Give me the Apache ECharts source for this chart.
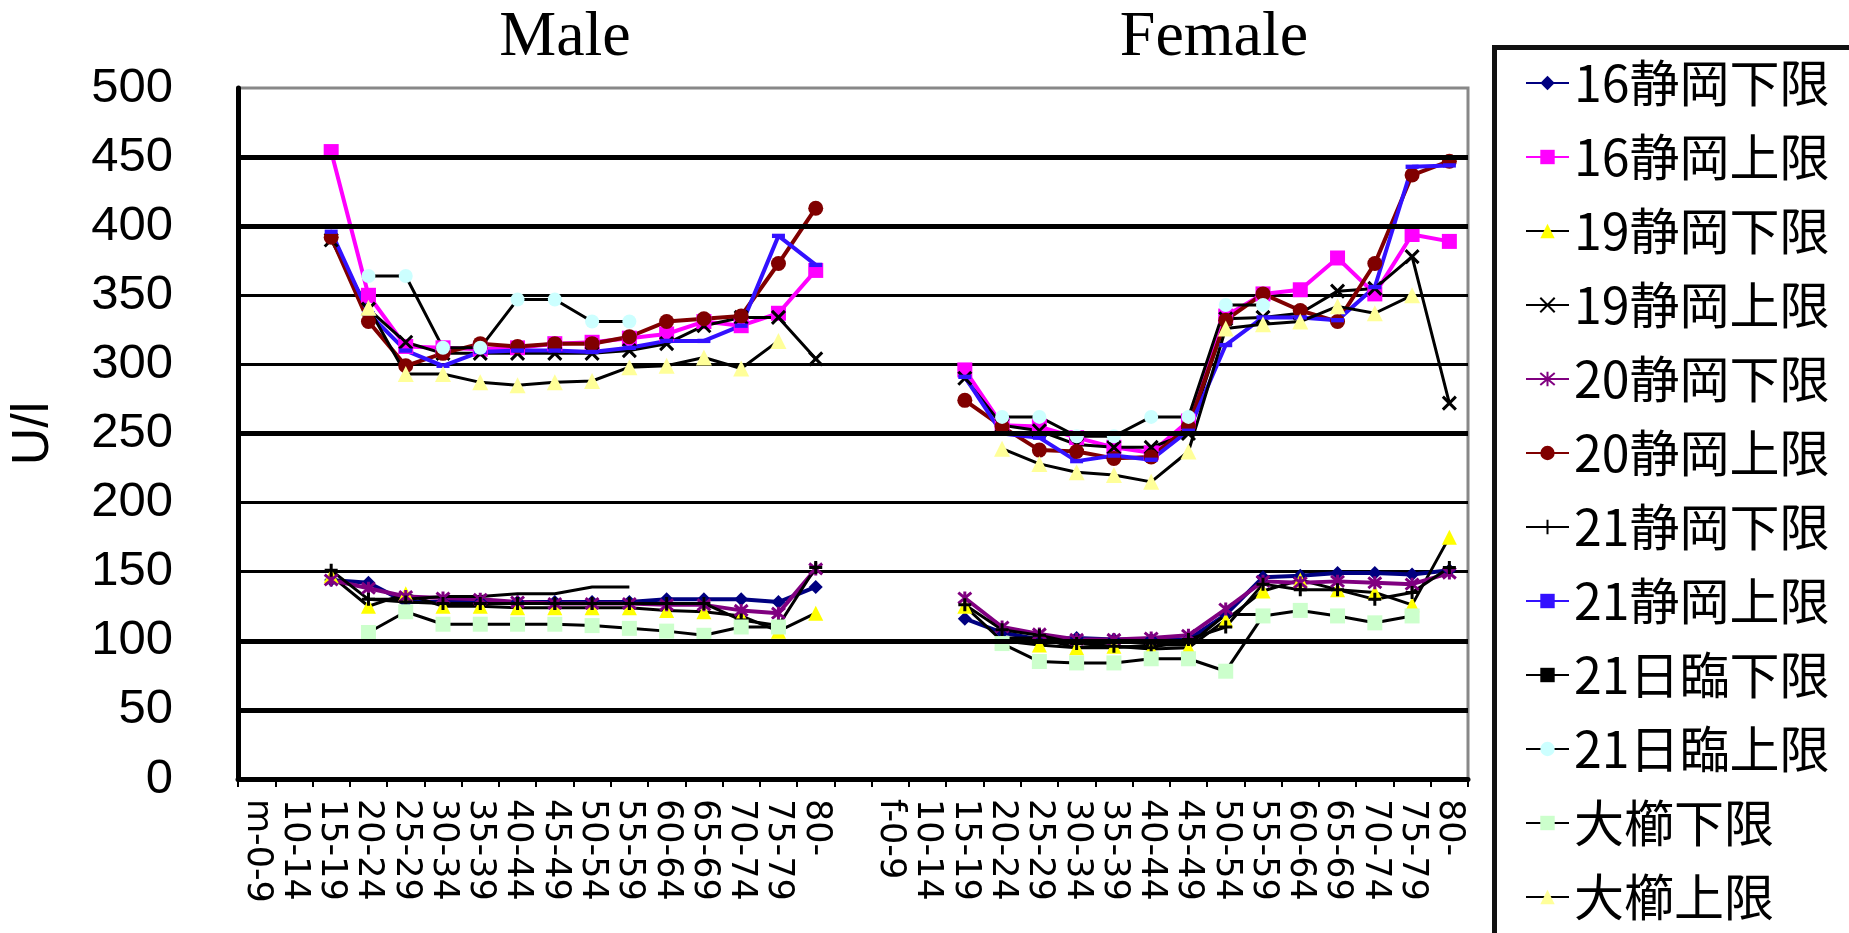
<!DOCTYPE html>
<html>
<head>
<meta charset="utf-8">
<script src="https://cdn.jsdelivr.net/npm/echarts@6/dist/echarts.min.js"></script>
<style>html,body{margin:0;padding:0;background:#fff}#c{width:1849px;height:933px}</style>
</head>
<body>
<div id="c"></div>
<script>
// ---- categories ----
const ageLabels = ['0-9','10-14','15-19','20-24','25-29','30-34','35-39','40-44','45-49','50-54','55-59','60-64','65-69','70-74','75-79','80-'];
const maleCats = ageLabels.map((a, i) => i === 0 ? 'm-' + a : a);
const femaleCats = ageLabels.map((a, i) => i === 0 ? 'f-' + a : a);
const categories = maleCats.concat([''], femaleCats);
const panelTitles = ['Male', 'Female'];
const yTicks = [0, 50, 100, 150, 200, 250, 300, 350, 400, 450, 500];
const thickGridValues = [50, 100, 250, 400, 450];

// ---- series values (male 16 ages, female 16 ages) ----
const s16LowM  = [null,null,144,142,128,128,128,128,128,128,128,130,130,130,128,139];
const s16LowF  = [null,null,116,106,101,102,101,101,101,119,146,147,149,149,148,151];
const s16HighM = [null,null,454,350,313,312,311,312,315,316,319,322,331,328,337,368];
const s16HighF = [null,null,296,256,255,247,240,236,259,335,351,354,377,351,394,389];
const s19LowM  = [null,null,147,125,134,125,125,124,124,124,124,122,121,118,107,120];
const s19LowF  = [null,null,125,100,97,95,96,94,95,115,136,144,137,135,126,175];
const s19HighM = [null,null,390,340,316,308,308,308,308,308,310,315,328,334,334,304];
const s19HighF = [null,null,290,256,252,242,240,240,250,333,334,337,353,355,378,272];
const s20LowM  = [null,null,144,138,132,131,130,128,127,127,127,126,126,122,120,152];
const s20LowF  = [null,null,131,110,105,101,101,102,104,123,143,142,143,142,141,149];
const s20HighM = [null,null,392,331,299,308,315,313,315,315,320,331,333,335,373,413];
const s20HighF = [null,null,274,255,238,237,232,233,255,332,351,339,331,373,437,447];
const s21LowM  = [null,null,151,130,128,127,127,127,127,127,127,127,127,115,111,153];
const s21LowF  = [null,null,126,108,104,98,96,95,101,110,141,137,137,130,135,153];
const s21HighM = [null,null,396,337,310,299,309,310,310,309,312,317,317,328,393,372];
const s21HighF = [null,null,291,250,247,230,234,231,252,314,334,334,332,356,443,444];
const jLowM    = [null,null,null,130,130,132,132,134,134,139,139,null,null,null,null,null];
const jLowF    = [null,null,null,102,102,95,95,97,97,119,119,null,null,null,null,null];
const jHighM   = [null,null,null,364,364,312,312,347,347,331,331,null,null,null,null,null];
const jHighF   = [null,null,null,262,262,248,248,262,262,343,343,null,null,null,null,null];
const okLowM   = [null,null,null,106,121,112,112,112,112,111,109,107,104,110,110,null];
const okLowF   = [null,null,null,98,85,84,84,87,87,78,118,122,118,113,118,null];
const okHighM  = [null,null,null,341,293,293,287,285,287,288,298,299,305,297,317,null];
const okHighF  = [null,null,null,239,228,222,220,215,237,326,329,331,342,337,350,null];

const seriesNames = ['16静岡下限','16静岡上限','19静岡下限','19静岡上限','20静岡下限','20静岡上限','21静岡下限','21静岡上限','21日臨下限','21日臨上限','大櫛下限','大櫛上限'];
const seriesValues = [
  [s16LowM, s16LowF], [s16HighM, s16HighF], [s19LowM, s19LowF], [s19HighM, s19HighF],
  [s20LowM, s20LowF], [s20HighM, s20HighF], [s21LowM, s21LowF], [s21HighM, s21HighF],
  [jLowM, jLowF], [jHighM, jHighF], [okLowM, okLowF], [okHighM, okHighF]
];

// ---- styles ----
const X_PATH = 'path://M0,0L10,10M10,0L0,10';
const STAR_PATH = 'path://M0,0L10,10M10,0L0,10M5,-1L5,11';
const PLUS_PATH = 'path://M5,0L5,10M0,5L10,5';
const DASH_PATH = 'path://M0,0L12,0L12,4L0,4Z';
const styles = [
  {line:'#000080', symbol:'diamond', size:14, fill:'#000080', border:'#000080', bw:0, w:4},
  {line:'#FF00FF', symbol:'rect', size:15, fill:'#FF00FF', border:'#FF00FF', bw:0, w:4},
  {line:'#000000', symbol:'triangle', size:15, fill:'#FFFF00', border:'#FFFF00', bw:0, w:3},
  {line:'#000000', symbol:X_PATH, size:13, fill:'none', border:'#000000', bw:3, w:3},
  {line:'#800080', symbol:STAR_PATH, size:13, fill:'none', border:'#800080', bw:3, w:4},
  {line:'#800000', symbol:'circle', size:15, fill:'#800000', border:'#800000', bw:0, w:4},
  {line:'#000000', symbol:PLUS_PATH, size:13, fill:'none', border:'#000000', bw:3, w:3},
  {line:'#3311FF', symbol:DASH_PATH, size:13, fill:'#3311FF', border:'#3311FF', bw:0, w:4, keep:true},
  {line:'#000000', symbol:DASH_PATH, size:13, fill:'#000000', border:'#000000', bw:0, w:3, hide:true, keep:true},
  {line:'#000000', symbol:'circle', size:14, fill:'#CCFFFF', border:'#CCFFFF', bw:0, w:3},
  {line:'#000000', symbol:'rect', size:15, fill:'#CCFFCC', border:'#CCFFCC', bw:0, w:3},
  {line:'#000000', symbol:'triangle', size:16, fill:'#FFFF99', border:'#FFFF99', bw:0, w:3}
];

const series = [{
  name: '_grid', type: 'line', z: 1, data: categories.map(() => null), silent: true,
  markLine: {
    silent: true, symbol: ['none','none'], label: {show:false}, animation: false,
    lineStyle: {color:'#000', width:5, type:'solid'},
    data: thickGridValues.map(v => ({yAxis: v}))
  }
}];
seriesNames.forEach((name, k) => {
  const st = styles[k];
  const vals = seriesValues[k][0].concat([null], seriesValues[k][1]);
  series.push({
    name, type: 'line', data: vals, connectNulls: false,
    symbol: st.symbol, symbolSize: st.size, showSymbol: !st.hide, symbolKeepAspect: !!st.keep,
    lineStyle: {color: st.line, width: st.w},
    itemStyle: {color: st.fill === 'none' ? 'rgba(0,0,0,0)' : st.fill, borderColor: st.border, borderWidth: st.bw},
    emphasis: {disabled: true}
  });
});

const chart = echarts.init(document.getElementById('c'), null, {renderer: 'canvas'});
chart.setOption({
  animation: false,
  backgroundColor: '#fff',
  title: [
    {text: panelTitles[0], left: 560, top: 1, textAlign: 'center',
     textStyle: {fontFamily: 'Liberation Serif', fontSize: 64, fontWeight: 'normal', color: '#000'}},
    {text: panelTitles[1], left: 1209, top: 1, textAlign: 'center',
     textStyle: {fontFamily: 'Liberation Serif', fontSize: 64, fontWeight: 'normal', color: '#000'}}
  ],
  grid: {left: 238, right: 381, top: 88, bottom: 154, show: true, borderColor: '#888', borderWidth: 3, backgroundColor: 'transparent'},
  legend: {
    data: seriesNames, orient: 'vertical', left: 1525, top: 55, padding: 0,
    itemWidth: 43, itemHeight: 18, itemGap: 18, height: 900,
    textStyle: {fontFamily: 'Noto Sans CJK JP', fontSize: 50, color: '#000', lineHeight: 56},
    selectedMode: false
  },
  xAxis: {
    type: 'category', data: categories, boundaryGap: true,
    axisLine: {lineStyle: {color: '#000', width: 5}},
    axisTick: {show: true, alignWithLabel: false, length: 8, lineStyle: {color: '#000', width: 2}},
    axisLabel: {interval: 0, rotate: -90, margin: 20, fontFamily: 'DejaVu Sans', fontSize: 35, color: '#000'},
    splitLine: {show: false}
  },
  yAxis: {
    type: 'value', min: yTicks[0], max: yTicks[yTicks.length - 1], interval: 50,
    name: 'U/l', nameLocation: 'middle', nameGap: 178, nameRotate: 90,
    nameTextStyle: {fontFamily: 'Liberation Sans', fontSize: 52, color: '#000'},
    axisLine: {show: true, lineStyle: {color: '#000', width: 5}},
    axisTick: {show: false},
    axisLabel: {margin: 65, fontFamily: 'Liberation Sans', fontSize: 49, color: '#000'},
    splitLine: {show: true, showMaxLine: false, lineStyle: {color: '#000', width: 3}}
  },
  graphic: [{
    type: 'rect', left: 1492, top: 45, silent: true, z: -1,
    shape: {width: 420, height: 1000},
    style: {fill: 'none', stroke: '#111', lineWidth: 5}
  }],
  series
});
</script>
</body>
</html>
